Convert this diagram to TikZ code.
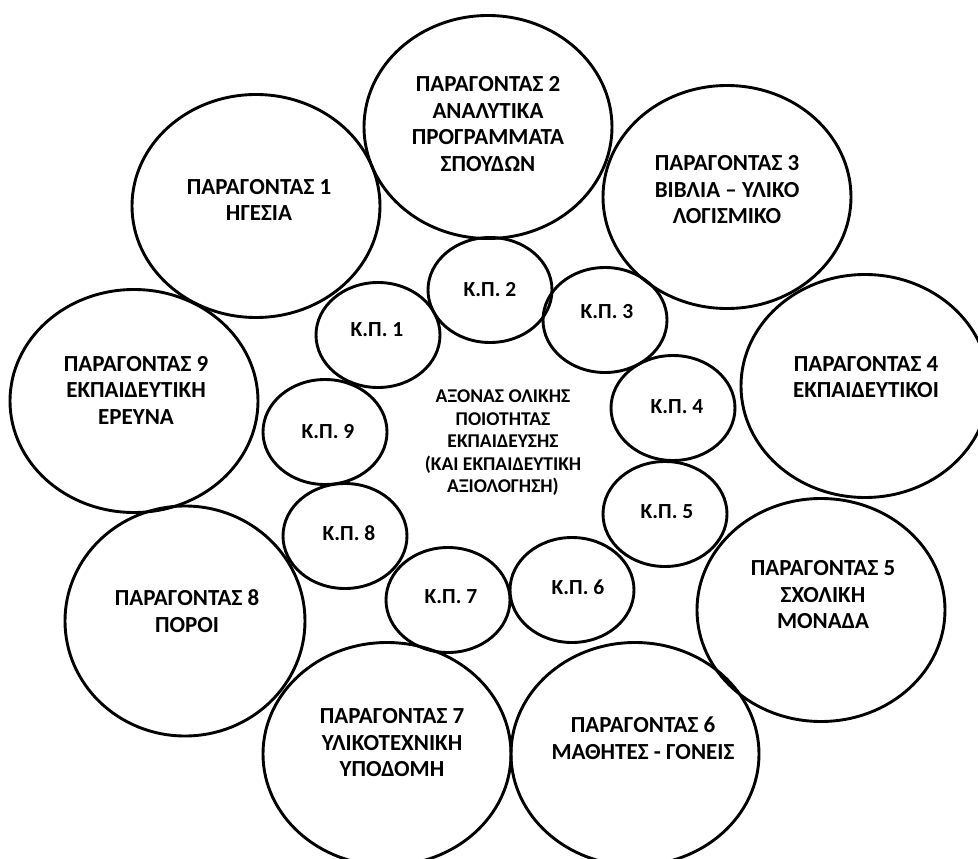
\documentclass[tikz,border=0pt]{standalone}
\usepackage{fontspec}
\setmainfont{Carlito}[BoldFont={* Bold}]
\usetikzlibrary{shapes.geometric}

\begin{document}
\begin{tikzpicture}[x=1pt,y=-1pt,
  ring/.style={ellipse, draw=black, line width=2.9pt, inner sep=0pt},
  factor/.style={ring, minimum width=248pt, minimum height=223pt},
  kp/.style={ring, minimum width=124pt, minimum height=105pt},
  ftext/.style={font=\bfseries\fontsize{23}{26.5}\selectfont, align=center, inner sep=0pt},
  stext/.style={font=\bfseries\fontsize{21.5}{25}\selectfont, align=center, inner sep=0pt},
  ctext/.style={font=\bfseries\fontsize{19.5}{22.5}\selectfont, align=center, inner sep=0pt}]
\useasboundingbox (0,0) rectangle (978,859);

% outer ring: the nine factors
\node[factor] (f1) at (256,206) {};
\node[factor] (f2) at (488,127) {};
\node[factor] (f3) at (727,197) {};
\node[factor] (f4) at (865,386) {};
\node[factor] (f5) at (821,610) {};
\node[factor] (f6) at (635,754) {};
\node[factor] (f7) at (387,754) {};
\node[factor, minimum width=240pt, minimum height=230pt] (f8) at (185,621) {};
\node[factor] (f9) at (134,401) {};

\node[ftext] (t1) at (259,200) {ΠΑΡΑΓΟΝΤΑΣ 1\\ΗΓΕΣΙΑ};
\node[ftext] (t2) at (488,124) {ΠΑΡΑΓΟΝΤΑΣ 2\\ΑΝΑΛΥΤΙΚΑ\\ΠΡΟΓΡΑΜΜΑΤΑ\\ΣΠΟΥΔΩΝ};
\node[ftext] (t3) at (727,190) {ΠΑΡΑΓΟΝΤΑΣ 3\\ΒΙΒΛΙΑ – ΥΛΙΚΟ\\ΛΟΓΙΣΜΙΚΟ};
\node[ftext] (t4) at (866,377) {ΠΑΡΑΓΟΝΤΑΣ 4\\ΕΚΠΑΙΔΕΥΤΙΚΟΙ};
\node[ftext] (t5) at (823,595) {ΠΑΡΑΓΟΝΤΑΣ 5\\ΣΧΟΛΙΚΗ\\ΜΟΝΑΔΑ};
\node[ftext] (t6) at (643,738) {ΠΑΡΑΓΟΝΤΑΣ 6\\ΜΑΘΗΤΕΣ - ΓΟΝΕΙΣ};
\node[ftext] (t7) at (392,743) {ΠΑΡΑΓΟΝΤΑΣ 7\\ΥΛΙΚΟΤΕΧΝΙΚΗ\\ΥΠΟΔΟΜΗ};
\node[ftext] (t8) at (187,611) {ΠΑΡΑΓΟΝΤΑΣ 8\\ΠΟΡΟΙ};
\node[ftext] (t9) at (136,390) {ΠΑΡΑΓΟΝΤΑΣ 9\\ΕΚΠΑΙΔΕΥΤΙΚΗ\\ΕΡΕΥΝΑ};

% inner ring: the nine critical points
\node[kp] (k1) at (378,335) {};
\node[kp] (k2) at (490,290) {};
\node[kp] (k3) at (605,320) {};
\node[kp] (k4) at (673,408) {};
\node[kp] (k5) at (665,514) {};
\node[kp] (k6) at (572,590) {};
\node[kp] (k7) at (448,600) {};
\node[kp] (k8) at (345,536) {};
\node[kp] (k9) at (325,432) {};

\node[stext] (s1) at (377,330) {Κ.Π. 1};
\node[stext] (s2) at (490,290) {Κ.Π. 2};
\node[stext] (s3) at (607,312) {Κ.Π. 3};
\node[stext] (s4) at (677,407) {Κ.Π. 4};
\node[stext] (s5) at (667,512) {Κ.Π. 5};
\node[stext] (s6) at (578,587) {Κ.Π. 6};
\node[stext] (s7) at (451,597) {Κ.Π. 7};
\node[stext] (s8) at (349,533) {Κ.Π. 8};
\node[stext] (s9) at (328,432) {Κ.Π. 9};

% central axis
\node[ctext] (axis) at (503,443) {ΑΞΟΝΑΣ ΟΛΙΚΗΣ\\ΠΟΙΟΤΗΤΑΣ\\ΕΚΠΑΙΔΕΥΣΗΣ\\(ΚΑΙ ΕΚΠΑΙΔΕΥΤΙΚΗ\\ΑΞΙΟΛΟΓΗΣΗ)};
\end{tikzpicture}
\end{document}
